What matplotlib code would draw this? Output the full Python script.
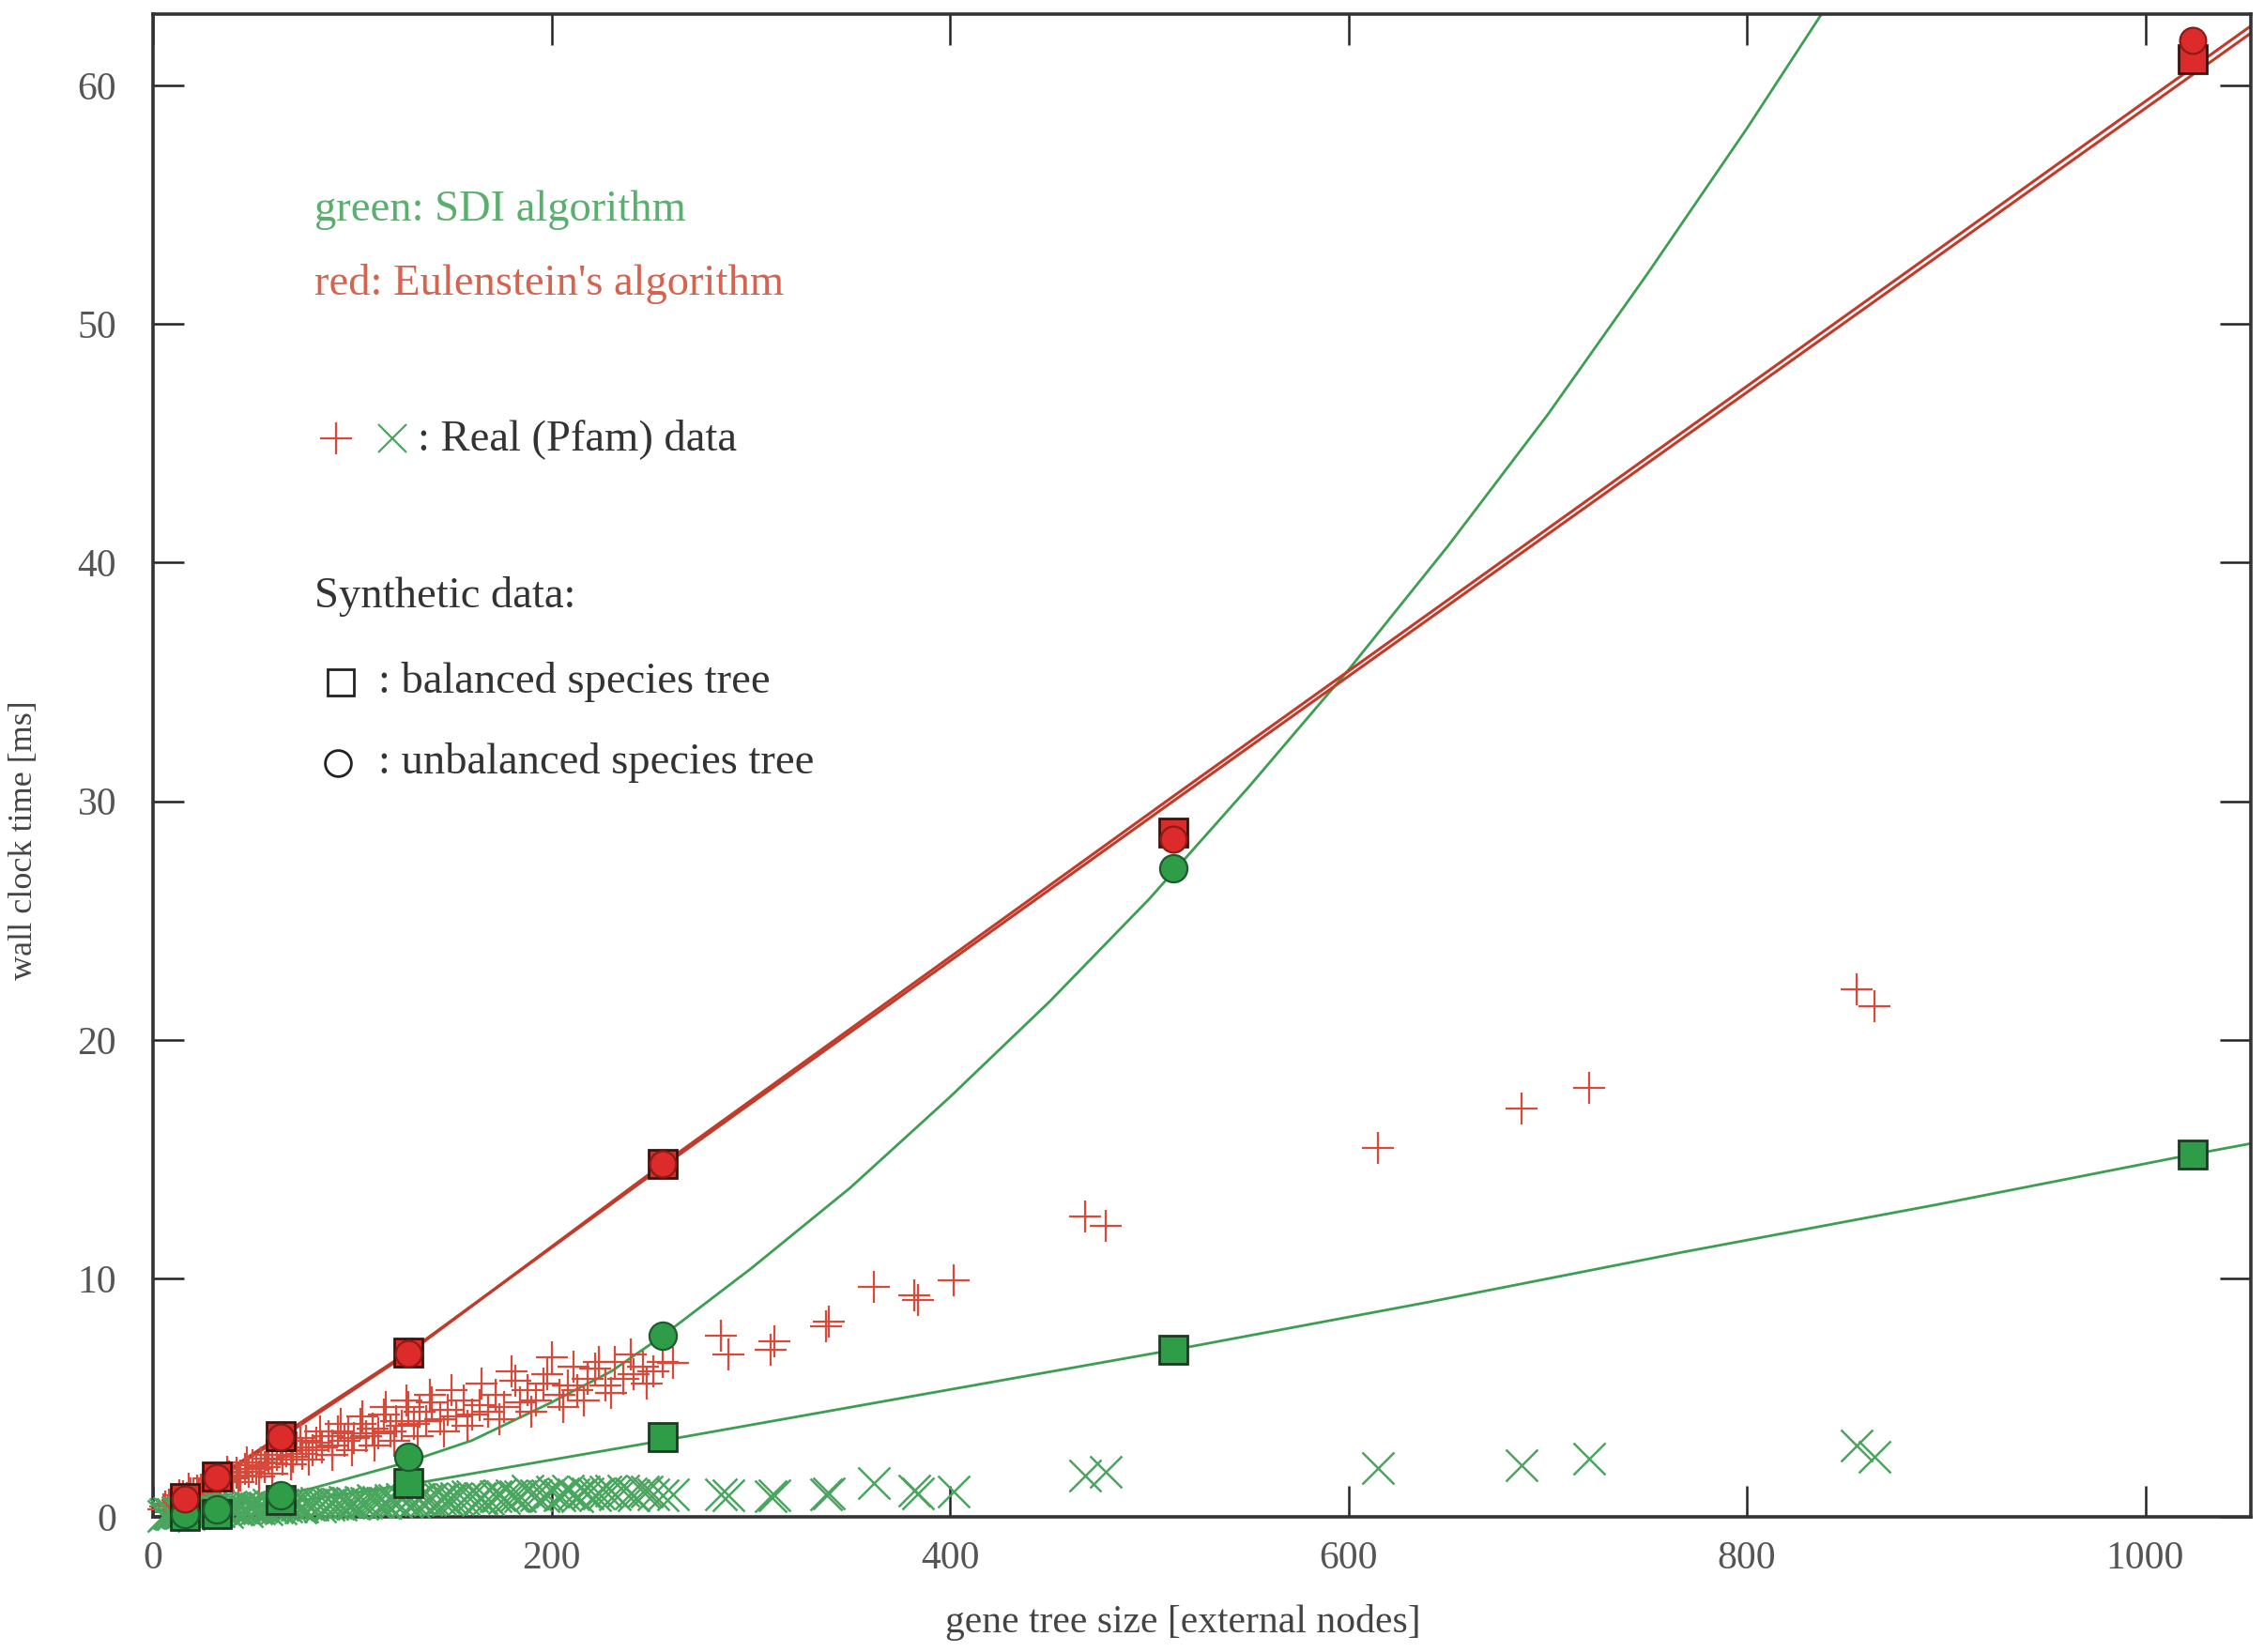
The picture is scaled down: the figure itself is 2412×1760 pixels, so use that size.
import matplotlib
matplotlib.use("Agg")
import matplotlib.pyplot as plt

# synthetic data (balanced / unbalanced species trees)
syn_size = [16, 32, 64, 128, 256, 512, 1024]
eul_bal = [0.8, 1.7, 3.4, 6.9, 14.8, 28.7, 61.1]
eul_unbal = [0.75, 1.65, 3.35, 6.85, 14.8, 28.4, 61.9]
sdi_bal = [0.05, 0.1, 0.7, 1.4, 3.35, 7.0, 15.2]
sdi_unbal_size = [16, 32, 64, 128, 256, 512]
sdi_unbal = [0.1, 0.3, 0.9, 2.5, 7.6, 27.2]

# fitted curves
eul_bal_fit_x = [16, 32, 64, 128, 256, 512, 1053]
eul_bal_fit_y = [0.8, 1.65, 3.4, 6.9, 14.7, 30.0, 62.2]
eul_unbal_fit_x = [16, 32, 64, 128, 256, 512, 1053]
eul_unbal_fit_y = [0.75, 1.6, 3.3, 6.85, 14.8, 30.2, 62.5]
sdi_bal_fit_x = [0, 64, 128, 256, 384, 512, 640, 768, 896, 1024, 1053]
sdi_bal_fit_y = [0.0, 0.55, 1.35, 3.2, 5.1, 7.0, 9.0, 11.1, 13.1, 15.2, 15.65]
sdi_unbal_fit_x = [0, 40, 80, 128, 160, 200, 230, 256, 300, 350, 400, 450,
                   500, 550, 600, 650, 700, 750, 800, 850]
sdi_unbal_fit_y = [0.2, 0.5, 1.2, 2.3, 3.2, 4.8, 6.1, 7.6, 10.4, 13.8, 17.6,
                   21.6, 25.9, 30.6, 35.5, 40.7, 46.2, 52.1, 58.2, 64.6]

# real (Pfam) data
pfam_size = [6, 8, 10, 12, 14, 15, 17, 19, 20, 22, 24, 25, 27, 29, 30, 32, 34,
             36, 38, 40, 42, 44, 46, 48, 50, 52, 54, 56, 58, 60, 62, 65, 67, 70,
             72, 75, 77, 80, 82, 85, 88, 90, 93, 96, 98, 101, 104, 107, 110, 113,
             116, 119, 122, 125, 128, 131, 134, 137, 140, 144, 148, 152, 156, 160,
             164, 168, 172, 176, 180, 184, 188, 192, 196, 200, 204, 208, 213, 218,
             222, 227, 232, 236, 241, 246, 251, 256,
             261, 285, 289, 310, 312, 338, 339, 362, 382, 384, 402, 468, 478,
             615, 687, 721, 855, 864]
pfam_eul = [0.45, 0.5, 0.6, 0.7, 0.75, 0.85, 0.8, 1.0, 0.95, 1.1, 1.15, 1.0,
            1.3, 1.25, 1.4, 1.35, 1.55, 1.5, 1.7, 1.6, 1.85, 1.75, 2.0, 1.9,
            2.15, 2.0, 2.3, 2.1, 2.45, 2.25, 2.6, 2.4, 2.75, 2.5, 2.9, 2.65, 3.2,
            2.8, 3.1, 2.9, 3.4, 3.0, 3.6, 3.2, 3.5, 3.3, 3.9, 3.4, 3.7, 3.5, 4.3,
            3.6, 4.0, 3.8, 4.6, 3.9, 4.4, 4.0, 4.8, 4.1, 4.5, 4.2, 4.9, 4.3, 4.7,
            4.4, 5.1, 4.6, 6.1, 4.8, 5.3, 4.9, 5.6, 6.7, 5.1, 5.5, 5.3, 5.8, 6.2,
            5.5, 6.5, 5.8, 6.0, 6.3, 6.1, 6.5,
            6.45, 7.6, 6.8, 7.0, 7.35, 8.0, 8.2, 9.65, 9.3, 9.1, 9.9, 12.6, 12.2,
            15.45, 17.1, 18.0, 22.1, 21.4]
pfam_sdi = [0.1, 0.15, 0.1, 0.2, 0.15, 0.2, 0.25, 0.2, 0.25, 0.3, 0.2, 0.3,
            0.25, 0.35, 0.3, 0.25, 0.35, 0.3, 0.4, 0.35, 0.3, 0.4, 0.35, 0.45,
            0.4, 0.35, 0.45, 0.4, 0.5, 0.45, 0.4, 0.5, 0.45, 0.55, 0.5, 0.45,
            0.55, 0.5, 0.6, 0.55, 0.5, 0.6, 0.55, 0.65, 0.6, 0.55, 0.65, 0.6,
            0.7, 0.65, 0.6, 0.7, 0.65, 0.75, 0.7, 0.65, 0.75, 0.7, 0.8, 0.75,
            0.7, 0.8, 0.75, 0.85, 0.8, 0.75, 0.85, 0.8, 0.9, 0.85, 1.1, 0.9,
            0.85, 1.05, 0.9, 1.1, 0.85, 1.0, 0.9, 1.05, 0.95, 1.1, 0.9, 1.05,
            0.95, 0.9,
            0.95, 0.95, 0.9, 0.85, 0.9, 0.95, 1.0, 1.4, 1.1, 1.0, 1.05, 1.75,
            1.9, 2.05, 2.15, 2.45, 3.0, 2.5]

# more small Pfam trees (dense cluster)
pfam_size_b = [5, 9, 13, 18, 23, 28, 33, 37, 43, 47, 53, 57, 60, 64, 69, 74,
               78, 84, 90, 94, 100, 105, 111, 117, 121, 127, 133, 139, 146, 150,
               158, 165, 174, 182, 190, 198, 206, 211, 216, 224, 230, 240, 248]
pfam_eul_b = [0.3, 0.55, 0.9, 1.2, 0.9, 1.6, 1.1, 1.9, 1.45, 2.3, 1.7, 2.6,
              1.8, 2.9, 2.2, 3.3, 2.4, 3.6, 2.6, 3.9, 2.8, 4.2, 3.0, 4.6, 3.2,
              4.9, 3.4, 5.1, 3.6, 5.3, 3.8, 5.6, 4.1, 5.7, 4.4, 6.0, 4.6, 6.3,
              4.9, 6.5, 5.2, 6.8, 5.6]
pfam_sdi_b = [0.05, 0.1, 0.15, 0.1, 0.2, 0.15, 0.25, 0.2, 0.3, 0.25, 0.35, 0.3,
              0.4, 0.35, 0.45, 0.4, 0.5, 0.45, 0.55, 0.5, 0.6, 0.55, 0.65, 0.6,
              0.7, 0.65, 0.75, 0.7, 0.8, 0.75, 0.85, 0.8, 0.9, 0.85, 0.95, 0.9,
              1.0, 0.95, 1.05, 1.0, 1.1, 1.0, 1.05]

x_ticks = [0, 200, 400, 600, 800, 1000]
y_ticks = [0, 10, 20, 30, 40, 50, 60]

RED_LINE = "#c23b2a"
RED_FILL = "#dd2a2a"
RED_PLUS = "#d9493a"
GREEN_LINE = "#3d9e52"
GREEN_FILL = "#2f9c48"
GREEN_X = "#4aa65e"

plt.rcParams["font.family"] = ["Liberation Serif", "DejaVu Serif"]

fig = plt.figure(figsize=(12.06, 8.8), dpi=200)
ax = fig.add_axes([0.0676, 0.0818, 0.9266, 0.9097])

# fitted lines
ax.plot(sdi_bal_fit_x, sdi_bal_fit_y, color=GREEN_LINE, lw=1.0, zorder=2)
ax.plot(sdi_unbal_fit_x, sdi_unbal_fit_y, color=GREEN_LINE, lw=1.0, zorder=2)
ax.plot(eul_bal_fit_x, eul_bal_fit_y, color=RED_LINE, lw=1.1, zorder=2)
ax.plot(eul_unbal_fit_x, eul_unbal_fit_y, color=RED_LINE, lw=1.1, zorder=2)

# real data
for xs, ys in [(pfam_size, pfam_eul), (pfam_size_b, pfam_eul_b)]:
    ax.plot(xs, ys, ls="none", marker="+", ms=12, mew=0.8,
            color=RED_PLUS, clip_on=False, zorder=3)
for xs, ys in [(pfam_size, pfam_sdi), (pfam_size_b, pfam_sdi_b)]:
    ax.plot(xs, ys, ls="none", marker="x", ms=12, mew=0.9,
            color=GREEN_X, clip_on=False, zorder=3)

# synthetic data
ax.plot(syn_size, sdi_bal, ls="none", marker="s", ms=11, mfc=GREEN_FILL,
        mec="#1c3a22", mew=1.0, clip_on=False, zorder=4)
ax.plot(syn_size, eul_bal, ls="none", marker="s", ms=11, mfc=RED_FILL,
        mec="#3a1410", mew=1.0, clip_on=False, zorder=4)
ax.plot(sdi_unbal_size, sdi_unbal, ls="none", marker="o", ms=10.5, mfc=GREEN_FILL,
        mec="#1f5a2c", mew=0.8, clip_on=False, zorder=5)
ax.plot(syn_size, eul_unbal, ls="none", marker="o", ms=10, mfc=RED_FILL,
        mec="#8a1c16", mew=0.8, clip_on=False, zorder=5)

ax.set_xlim(0, 1053)
ax.set_ylim(0, 63)
ax.set_xticks(x_ticks)
ax.set_yticks(y_ticks)
ax.tick_params(direction="in", length=12, width=0.9, top=True, right=True,
               labelsize=15, labelcolor="#555555", color="#222222")
ax.tick_params(axis="y", pad=14)
ax.tick_params(axis="x", pad=9)
for s in ax.spines.values():
    s.set_linewidth(1.3)
    s.set_color("#333333")

ax.set_xlabel("gene tree size [external nodes]", fontsize=15, color="#444444")
ax.xaxis.set_label_coords(0.491, -0.058)
ax.set_ylabel("wall clock time [ms]", fontsize=13, color="#444444")
ax.yaxis.set_label_coords(-0.054, 0.45)

# key written inside the plot
FS = 16.8
ax.text(81, 54.8, "green: SDI algorithm", color="#5aae6e", fontsize=FS,
        va="center")
ax.text(81, 51.7, "red: Eulenstein's algorithm", color="#d4644f", fontsize=FS,
        va="center")
ax.plot([92], [45.2], marker="+", ms=12, mew=0.8, color=RED_PLUS, ls="none")
ax.plot([120], [45.2], marker="x", ms=11, mew=0.8, color=GREEN_X, ls="none")
ax.text(133, 45.2, ": Real (Pfam) data", color="#333333", fontsize=FS,
        va="center")
ax.text(81, 38.6, "Synthetic data:", color="#333333", fontsize=FS, va="center")
ax.plot([94], [35.0], marker="s", ms=10, mfc="none", mec="#222222", mew=1.0,
        ls="none")
ax.text(113, 35.0, ": balanced species tree", color="#333333", fontsize=FS,
        va="center")
ax.plot([93], [31.6], marker="o", ms=10, mfc="none", mec="#222222", mew=1.0,
        ls="none")
ax.text(113, 31.6, ": unbalanced species tree", color="#333333", fontsize=FS,
        va="center")

plt.savefig("out.png", dpi=200)
